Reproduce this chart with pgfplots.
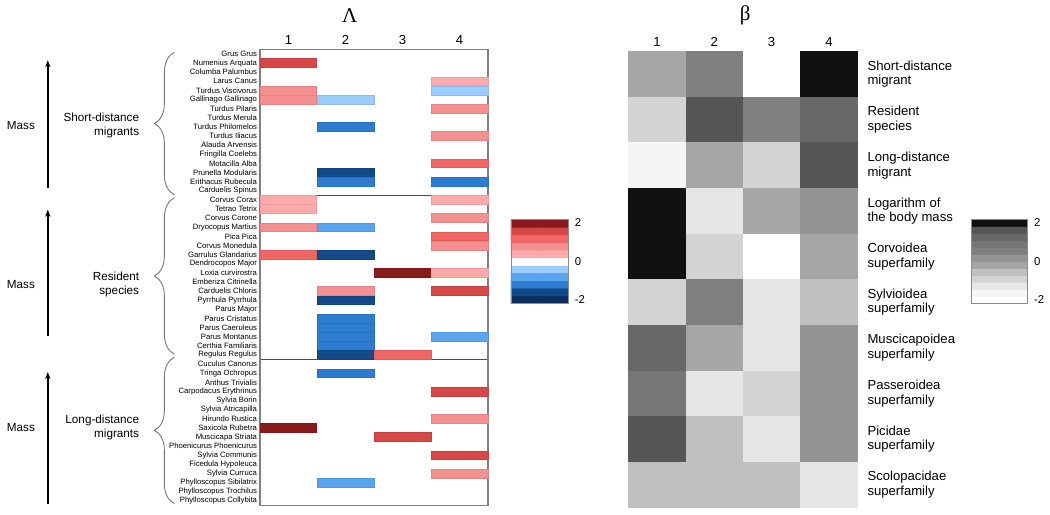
\documentclass[border=0pt]{standalone}
\usepackage{fontspec}
\setmainfont{Liberation Sans}
\newfontfamily\serifx{Liberation Serif}
\usepackage{pgfplots}
\usepackage{pgfplotstable}
\pgfplotsset{compat=1.18}
\usetikzlibrary{arrows.meta,decorations.pathreplacing}

% one cell of each heatmap (absolute size = axis size / number of cells)
\pgfdeclareplotmark{lcell}{\pgfpathrectangle{\pgfpoint{-0.568cm}{-0.088cm}}{\pgfpoint{1.136cm}{0.176cm}}\pgfusepathqfillstroke}
\pgfdeclareplotmark{rcell}{\pgfpathrectangle{\pgfpoint{-0.576cm}{-0.459cm}}{\pgfpoint{1.152cm}{0.918cm}}\pgfusepathqfill}

\pgfplotsset{
  rbmap/.style={
    colormap={rb}{rgb255=(12,46,92) rgb255=(18,74,138) rgb255=(46,124,207)
      rgb255=(90,165,240) rgb255=(153,204,255) rgb255=(255,255,255)
      rgb255=(255,170,170) rgb255=(245,144,144) rgb255=(242,101,101)
      rgb255=(214,72,72) rgb255=(139,26,26)},
    colormap access=piecewise constant,
    point meta min=-2, point meta max=2},
  graymap/.style={
    colormap={gr}{rgb255=(255,255,255) rgb255=(245,245,245) rgb255=(230,230,230)
      rgb255=(211,211,211) rgb255=(192,192,192) rgb255=(166,166,166)
      rgb255=(148,148,148) rgb255=(128,128,128) rgb255=(118,118,118)
      rgb255=(104,104,104) rgb255=(86,86,86) rgb255=(17,17,17)},
    colormap access=piecewise constant,
    point meta min=-2, point meta max=2},
  heat/.style={
    scale only axis, axis on top,
    major tick length=0pt,
    xmin=0.5, xmax=4.5, xtick={1,2,3,4}, xticklabels={1,2,3,4},
    xticklabel pos=upper,
    x tick label style={font=\fontsize{7.5}{9}\selectfont, yshift=-1pt},
    y dir=reverse},
  bar/.style={
    scale only axis, axis on top,
    major tick length=0pt,
    xmin=-0.5, xmax=1.5, xtick=\empty,
    ymin=-2, ymax=2, ytick={-1.82,0,1.86}, yticklabels={-2,0,2},
    yticklabel pos=upper,
    y tick label style={font=\fontsize{6.5}{8}\selectfont},
    axis line style={draw=black!45, line width=0.5pt}},
  cells/.style={scatter, only marks, mark=#1, point meta=explicit,
    mark options={line width=0.3pt},
    scatter/use mapped color={draw=mapped color!92!black, fill=mapped color}},
}

% Lambda: rows = species, columns 1-4
\pgfplotstableread[col sep=comma]{
name,r,c1,c2,c3,c4
Grus Grus,1,0,0,0,0
Numenius Arquata,2,1.45,0,0,0
Columba Palumbus,3,0,0,0,0
Larus Canus,4,0,0,0,0.36
Turdus Viscivorus,5,0.73,0,0,-0.36
Gallinago Gallinago,6,0.73,-0.36,0,0
Turdus Pilaris,7,0,0,0,0.73
Turdus Merula,8,0,0,0,0
Turdus Philomelos,9,0,-1.09,0,0
Turdus Iliacus,10,0,0,0,0.73
Alauda Arvensis,11,0,0,0,0
Fringilla Coelebs,12,0,0,0,0
Motacilla Alba,13,0,0,0,1.09
Prunella Modularis,14,0,-1.45,0,0
Erithacus Rubecula,15,0,-1.09,0,-1.09
Carduelis Spinus,16,0,0,0,0
Corvus Corax,17,0.36,0,0,0.36
Tetrao Tetrix,18,0.36,0,0,0
Corvus Corone,19,0,0,0,0.73
Dryocopus Martius,20,0.73,-0.73,0,0
Pica Pica,21,0,0,0,1.09
Corvus Monedula,22,0,0,0,0.73
Garrulus Glandarius,23,1.09,-1.45,0,0
Dendrocopos Major,24,0,0,0,0
Loxia curvirostra,25,0,0,1.82,0.36
Emberiza Citrinella,26,0,0,0,0
Carduelis Chloris,27,0,0.73,0,1.45
Pyrrhula Pyrrhula,28,0,-1.45,0,0
Parus Major,29,0,0,0,0
Parus Cristatus,30,0,-1.09,0,0
Parus Caeruleus,31,0,-1.09,0,0
Parus Montanus,32,0,-1.09,0,-0.73
Certhia Familiaris,33,0,-1.09,0,0
Regulus Regulus,34,0,-1.45,1.09,0
Cuculus Canorus,35,0,0,0,0
Tringa Ochropus,36,0,-1.09,0,0
Anthus Trivialis,37,0,0,0,0
Carpodacus Erythrinus,38,0,0,0,1.45
Sylvia Borin,39,0,0,0,0
Sylvia Atricapilla,40,0,0,0,0
Hirundo Rustica,41,0,0,0,0.73
Saxicola Rubetra,42,1.82,0,0,0
Muscicapa Striata,43,0,0,1.45,0
Phoenicurus Phoenicurus,44,0,0,0,0
Sylvia Communis,45,0,0,0,1.45
Ficedula Hypoleuca,46,0,0,0,0
Sylvia Curruca,47,0,0,0,0.73
Phylloscopus Sibilatrix,48,0,-0.73,0,0
Phylloscopus Trochilus,49,0,0,0,0
Phylloscopus Collybita,50,0,0,0,0
}\lam

% beta: rows = covariates, columns 1-4
\pgfplotstableread[col sep=comma]{
r,c1,c2,c3,c4
1,-0.17,0.5,-1.83,1.83
2,-0.83,1.5,0.5,1.17
3,-1.5,-0.17,-0.83,1.5
4,1.83,-1.17,-0.17,0.17
5,1.83,-0.83,-1.83,-0.17
6,-0.83,0.5,-1.17,-0.5
7,1.17,-0.17,-1.17,0.17
8,0.83,-1.17,-0.83,0.17
9,1.5,-0.5,-1.17,0.17
10,-0.5,-0.5,-0.5,-1.17
}\bet

\begin{document}
\begin{tikzpicture}
\path (0,0) rectangle (21,10.32);

% ---- Lambda heatmap
\begin{axis}[heat, rbmap, at={(5.22cm,0.18cm)}, anchor=south west,
  width=4.58cm, height=9.16cm,
  ymin=0.5, ymax=50.5, ytick={1,...,50},
  yticklabels from table={\lam}{name},
  y tick label style={font=\fontsize{4.4}{5}\selectfont, inner sep=1.5pt},
  axis line style={draw=black!50, line width=0.8pt}]
\addplot[cells=lcell] table[x expr={\thisrow{c1}==0 ? nan : 1}, y=r, meta=c1] {\lam};
\addplot[cells=lcell] table[x expr={\thisrow{c2}==0 ? nan : 2}, y=r, meta=c2] {\lam};
\addplot[cells=lcell] table[x expr={\thisrow{c3}==0 ? nan : 3}, y=r, meta=c3] {\lam};
\addplot[cells=lcell] table[x expr={\thisrow{c4}==0 ? nan : 4}, y=r, meta=c4] {\lam};
\draw[black!70, line width=0.8pt] (axis cs:0.5,16.5) -- (axis cs:4.5,16.5);
\draw[black!70, line width=0.8pt] (axis cs:0.5,34.5) -- (axis cs:4.5,34.5);
\end{axis}

% ---- Lambda colour bar
\begin{axis}[bar, rbmap, at={(10.26cm,4.24cm)}, anchor=south west, width=1.16cm, height=1.68cm]
\addplot[matrix plot*, mesh/cols=2, point meta=y] coordinates {
(0,-1.818) (1,-1.818) (0,-1.455) (1,-1.455) (0,-1.091) (1,-1.091)
(0,-0.727) (1,-0.727) (0,-0.364) (1,-0.364) (0,0) (1,0)
(0,0.364) (1,0.364) (0,0.727) (1,0.727) (0,1.091) (1,1.091)
(0,1.455) (1,1.455) (0,1.818) (1,1.818)};
\end{axis}

% ---- beta heatmap
\begin{axis}[heat, graymap, at={(12.62cm,0.14cm)}, anchor=south west,
  width=4.6cm, height=9.16cm,
  ymin=0.5, ymax=10.5, ytick={1,...,10},
  yticklabel pos=upper,
  yticklabels={{Short-distance\\migrant},{Resident\\species},{Long-distance\\migrant},
    {Logarithm of\\the body mass},{Corvoidea\\superfamily},{Sylvioidea\\superfamily},
    {Muscicapoidea\\superfamily},{Passeroidea\\superfamily},{Picidae\\superfamily},
    {Scolopacidae\\superfamily}},
  y tick label style={font=\fontsize{7.5}{8.3}\selectfont, align=left, inner sep=3pt, xshift=2.5pt},
  axis line style={draw=black!85, line width=0.8pt}]
\addplot[cells=rcell] table[x expr=1, y=r, meta=c1] {\bet};
\addplot[cells=rcell] table[x expr=2, y=r, meta=c2] {\bet};
\addplot[cells=rcell] table[x expr=3, y=r, meta=c3] {\bet};
\addplot[cells=rcell] table[x expr=4, y=r, meta=c4] {\bet};
\end{axis}

% ---- beta colour bar
\begin{axis}[bar, graymap, at={(19.5cm,4.24cm)}, anchor=south west, width=1.14cm, height=1.68cm]
\addplot[matrix plot*, mesh/cols=2, point meta=y] coordinates {
(0,-1.833) (1,-1.833) (0,-1.5) (1,-1.5) (0,-1.167) (1,-1.167)
(0,-0.833) (1,-0.833) (0,-0.5) (1,-0.5) (0,-0.167) (1,-0.167)
(0,0.167) (1,0.167) (0,0.5) (1,0.5) (0,0.833) (1,0.833)
(0,1.167) (1,1.167) (0,1.5) (1,1.5) (0,1.833) (1,1.833)};
\end{axis}

% ---- titles and group annotations (pixel units, origin top left)
\begin{scope}[x=0.02cm, y=-0.02cm, yshift=10.32cm]
\node[font=\serifx\fontsize{12}{14}\selectfont] at (351,15) {Λ};
\node[font=\serifx\fontsize{12}{14}\selectfont] at (748,15) {β};
\begin{scope}[font=\fontsize{6.7}{8}\selectfont]
\foreach \ya/\yb/\ym/\lab/\bt/\bb in
  {188/60/125/{Short-distance\\migrants}/52/195,
   337/210/285/{Resident\\species}/198/355,
   505/373/429/{Long-distance\\migrants}/358/505}{
  \draw[-{Stealth[length=4pt,width=3pt]}, line width=0.9pt] (48,\ya) -- (48,\yb);
  \node at (21,\ym) {Mass};
  \node[anchor=east, align=right, inner sep=0pt] at (140,\ym) {\lab};
  \draw[black!55, line width=0.5pt, decorate, decoration={brace, amplitude=0.4cm}]
    (175,\bb) -- (175,\bt);
}
\end{scope}
\end{scope}
\end{tikzpicture}
\end{document}
